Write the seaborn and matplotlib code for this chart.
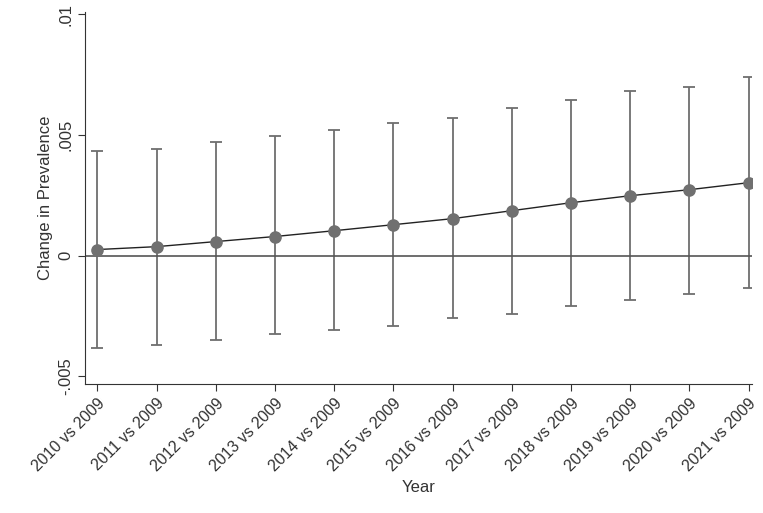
import matplotlib
matplotlib.use("Agg")
import matplotlib.pyplot as plt
import seaborn as sns
import pandas as pd

years = [f"{y} vs 2009" for y in range(2010, 2022)]
est = [0.00025, 0.00037, 0.00058, 0.00079, 0.00103, 0.00128, 0.00153, 0.00186, 0.00219, 0.00248, 0.00273, 0.00302]
upper = [0.00434, 0.00442, 0.00471, 0.00496, 0.0052, 0.0055, 0.0057, 0.0061, 0.00645, 0.0068, 0.0070, 0.0074]
lower = [-0.00384, -0.00372, -0.00351, -0.00326, -0.0031, -0.0029, -0.0026, -0.0024, -0.0021, -0.00186, -0.0016, -0.00136]

sns.set_style("white")
plt.rcParams['font.family'] = ['Liberation Sans', 'DejaVu Sans']
fig, ax = plt.subplots(figsize=(7.63, 5.13), dpi=100)
fig.subplots_adjust(left=0.112, right=0.985, top=0.977, bottom=0.251)
x = list(range(len(years)))
ax.vlines(x, lower, upper, color="#6e6e6e", lw=1.3)
ax.hlines(lower, [i-0.1 for i in x], [i+0.1 for i in x], color="#6e6e6e", lw=1.3)
ax.hlines(upper, [i-0.1 for i in x], [i+0.1 for i in x], color="#6e6e6e", lw=1.3)
ax.axhline(0, color="#555555", lw=1.2)
sns.lineplot(x=x, y=est, ax=ax, color="#222222", lw=1)
ax.scatter(x, est, s=65, color="#707070", zorder=5)
ax.set_xlim(-0.2, 11.05)
ax.set_ylim(-0.00533, 0.0101)
ax.set_yticks([-0.005, 0, 0.005, 0.01])
ax.set_yticklabels(["-.005", "0", ".005", ".01"], rotation=90, va="center", fontsize=12, color="#333333")
ax.set_xticks(x)
ax.set_xticklabels(years, rotation=45, ha="right", rotation_mode="anchor", fontsize=11.5, color="#333333")
ax.tick_params(axis="both", length=5, color="#333333", bottom=True, left=True)
for s in ["top", "right"]:
    ax.spines[s].set_visible(False)
for s in ["left", "bottom"]:
    ax.spines[s].set_color("#333333")
ax.set_xlabel("Year", fontsize=12, color="#333333")
ax.set_ylabel("Change in Prevalence", fontsize=12, color="#333333")
fig.savefig("out.png")
